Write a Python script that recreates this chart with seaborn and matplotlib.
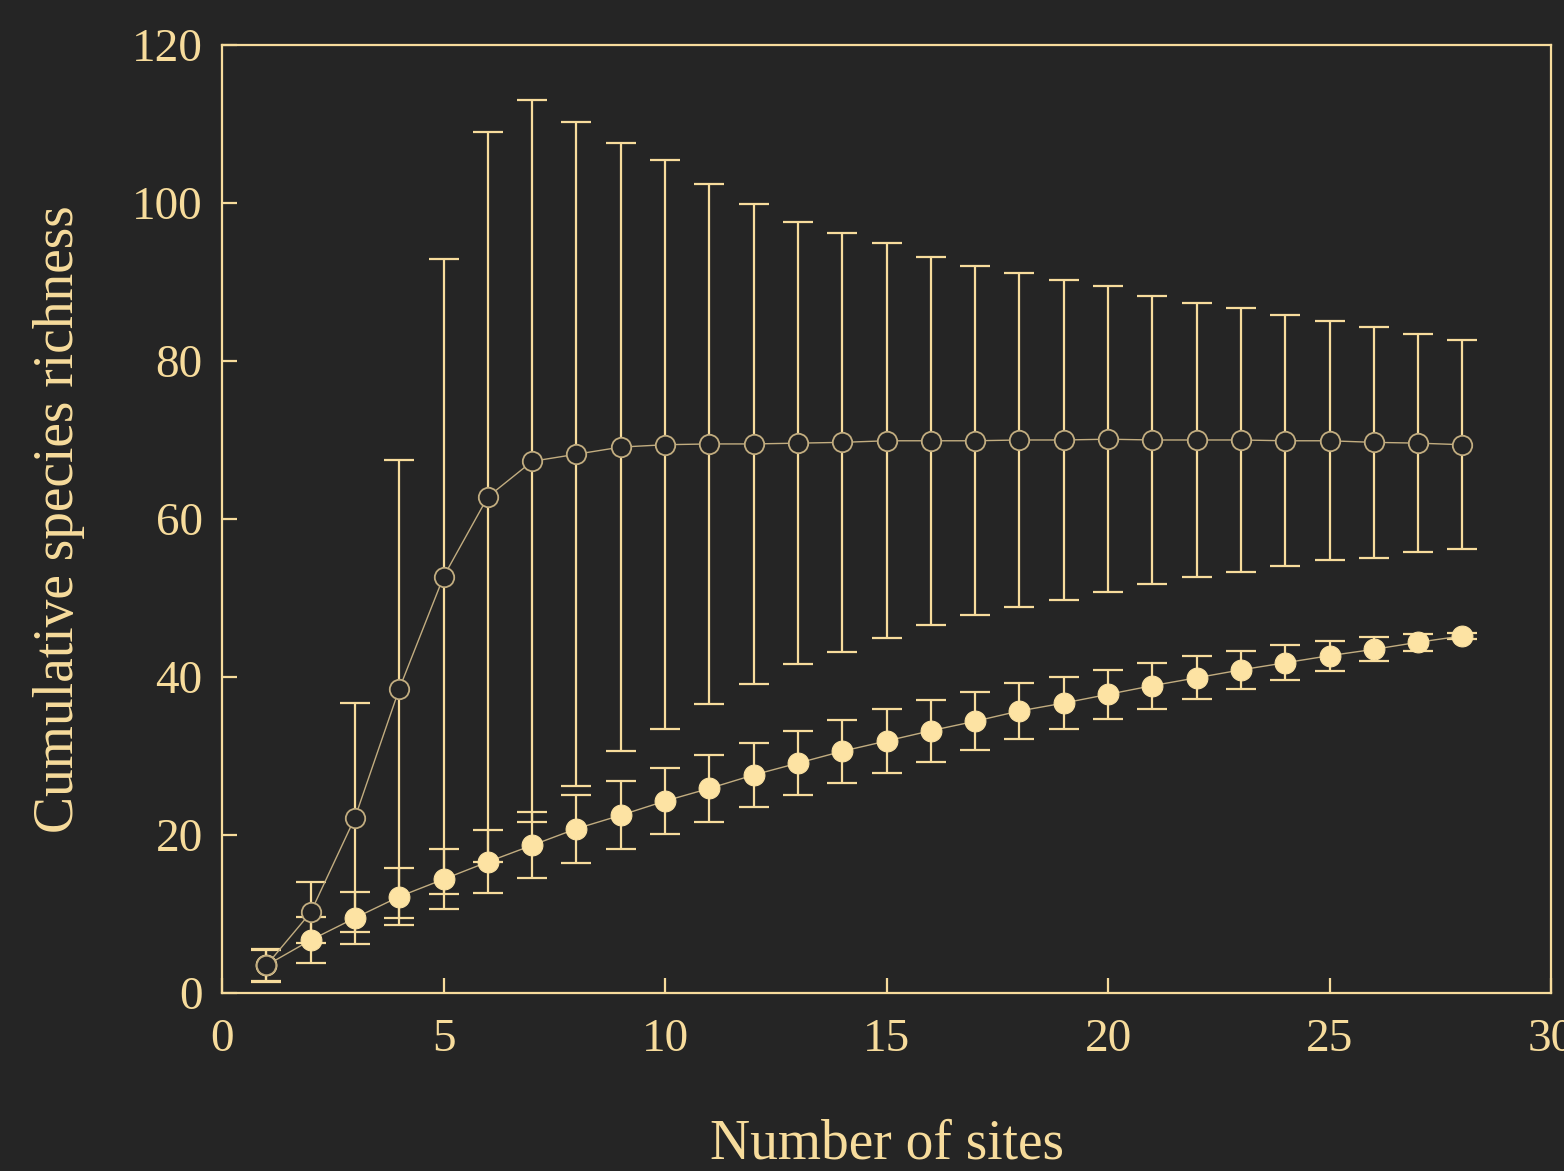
import matplotlib.pyplot as plt
import pandas as pd
import seaborn as sns

# data
sites = list(range(1, 29))

richness_open = [3.5, 10.2, 22.2, 38.5, 52.7, 62.8, 67.3, 68.2, 69.1, 69.4,
                 69.5, 69.5, 69.6, 69.7, 69.9, 69.9, 69.9, 70.0, 70.0, 70.1,
                 70.0, 70.0, 70.0, 69.9, 69.9, 69.7, 69.6, 69.4]
err_open = [2.1, 3.9, 14.5, 29.0, 40.2, 46.2, 45.7, 42.0, 38.5, 36.0,
            32.9, 30.4, 28.0, 26.5, 25.0, 23.3, 22.1, 21.1, 20.2, 19.4,
            18.2, 17.4, 16.7, 15.9, 15.1, 14.6, 13.8, 13.2]

richness_filled = [3.5, 6.7, 9.5, 12.2, 14.4, 16.6, 18.7, 20.8, 22.5, 24.3,
                   25.9, 27.6, 29.1, 30.6, 31.9, 33.2, 34.4, 35.7, 36.7, 37.8,
                   38.9, 39.9, 40.9, 41.8, 42.7, 43.5, 44.4, 45.2]
err_filled = [2.0, 2.9, 3.3, 3.6, 3.8, 4.0, 4.2, 4.3, 4.3, 4.2,
              4.2, 4.1, 4.1, 4.0, 4.0, 3.9, 3.7, 3.5, 3.3, 3.1,
              2.9, 2.7, 2.4, 2.2, 1.9, 1.5, 1.1, 0.4]

bg = "#252525"
cream = "#f7dc9c"
line_col = "#c2ad80"

df_open = pd.DataFrame({"sites": sites, "richness": richness_open, "err": err_open})
df_filled = pd.DataFrame({"sites": sites, "richness": richness_filled, "err": err_filled})

sns.set_style("ticks")
plt.rcParams["font.family"] = ["Liberation Serif", "DejaVu Serif"]

fig, ax = plt.subplots(figsize=(15.64, 11.71), dpi=100)
fig.patch.set_facecolor(bg)
ax.set_facecolor(bg)
fig.subplots_adjust(left=0.142, right=0.9917, top=0.9616, bottom=0.152)

# error bars
ax.errorbar(df_filled["sites"], df_filled["richness"], yerr=df_filled["err"],
            fmt="none", ecolor=cream, elinewidth=1.6, capsize=11, capthick=1.6, zorder=2)
ax.errorbar(df_open["sites"], df_open["richness"], yerr=df_open["err"],
            fmt="none", ecolor=cream, elinewidth=1.6, capsize=11, capthick=1.6, zorder=2)

# connecting lines + markers
sns.lineplot(data=df_filled, x="sites", y="richness", ax=ax, color=line_col,
             linewidth=1.0, marker="o", markersize=15, markerfacecolor="#fde3a3",
             markeredgecolor="#fde3a3", zorder=3)
sns.lineplot(data=df_open, x="sites", y="richness", ax=ax, color=line_col,
             linewidth=1.0, marker="o", markersize=14, markerfacecolor=bg,
             markeredgecolor=line_col, markeredgewidth=1.3, zorder=4)

ax.set_xlim(0, 30)
ax.set_ylim(0, 120)
ax.set_xticks(range(0, 31, 5))
ax.set_yticks(range(0, 121, 20))

for side in ["top", "right", "bottom", "left"]:
    ax.spines[side].set_visible(True)
    ax.spines[side].set_color(cream)
    ax.spines[side].set_linewidth(1.6)

ax.tick_params(axis="both", direction="in", length=11, width=1.6, colors=cream,
               labelsize=34, labelcolor=cream)
ax.tick_params(axis="x", pad=18)
ax.tick_params(axis="y", pad=14)

ax.set_xlabel("Number of sites", fontsize=40, color=cream, labelpad=42)
ax.set_ylabel("Cumulative species richness", fontsize=40, color=cream, labelpad=34)

fig.savefig("out.png", dpi=100, facecolor=bg)
